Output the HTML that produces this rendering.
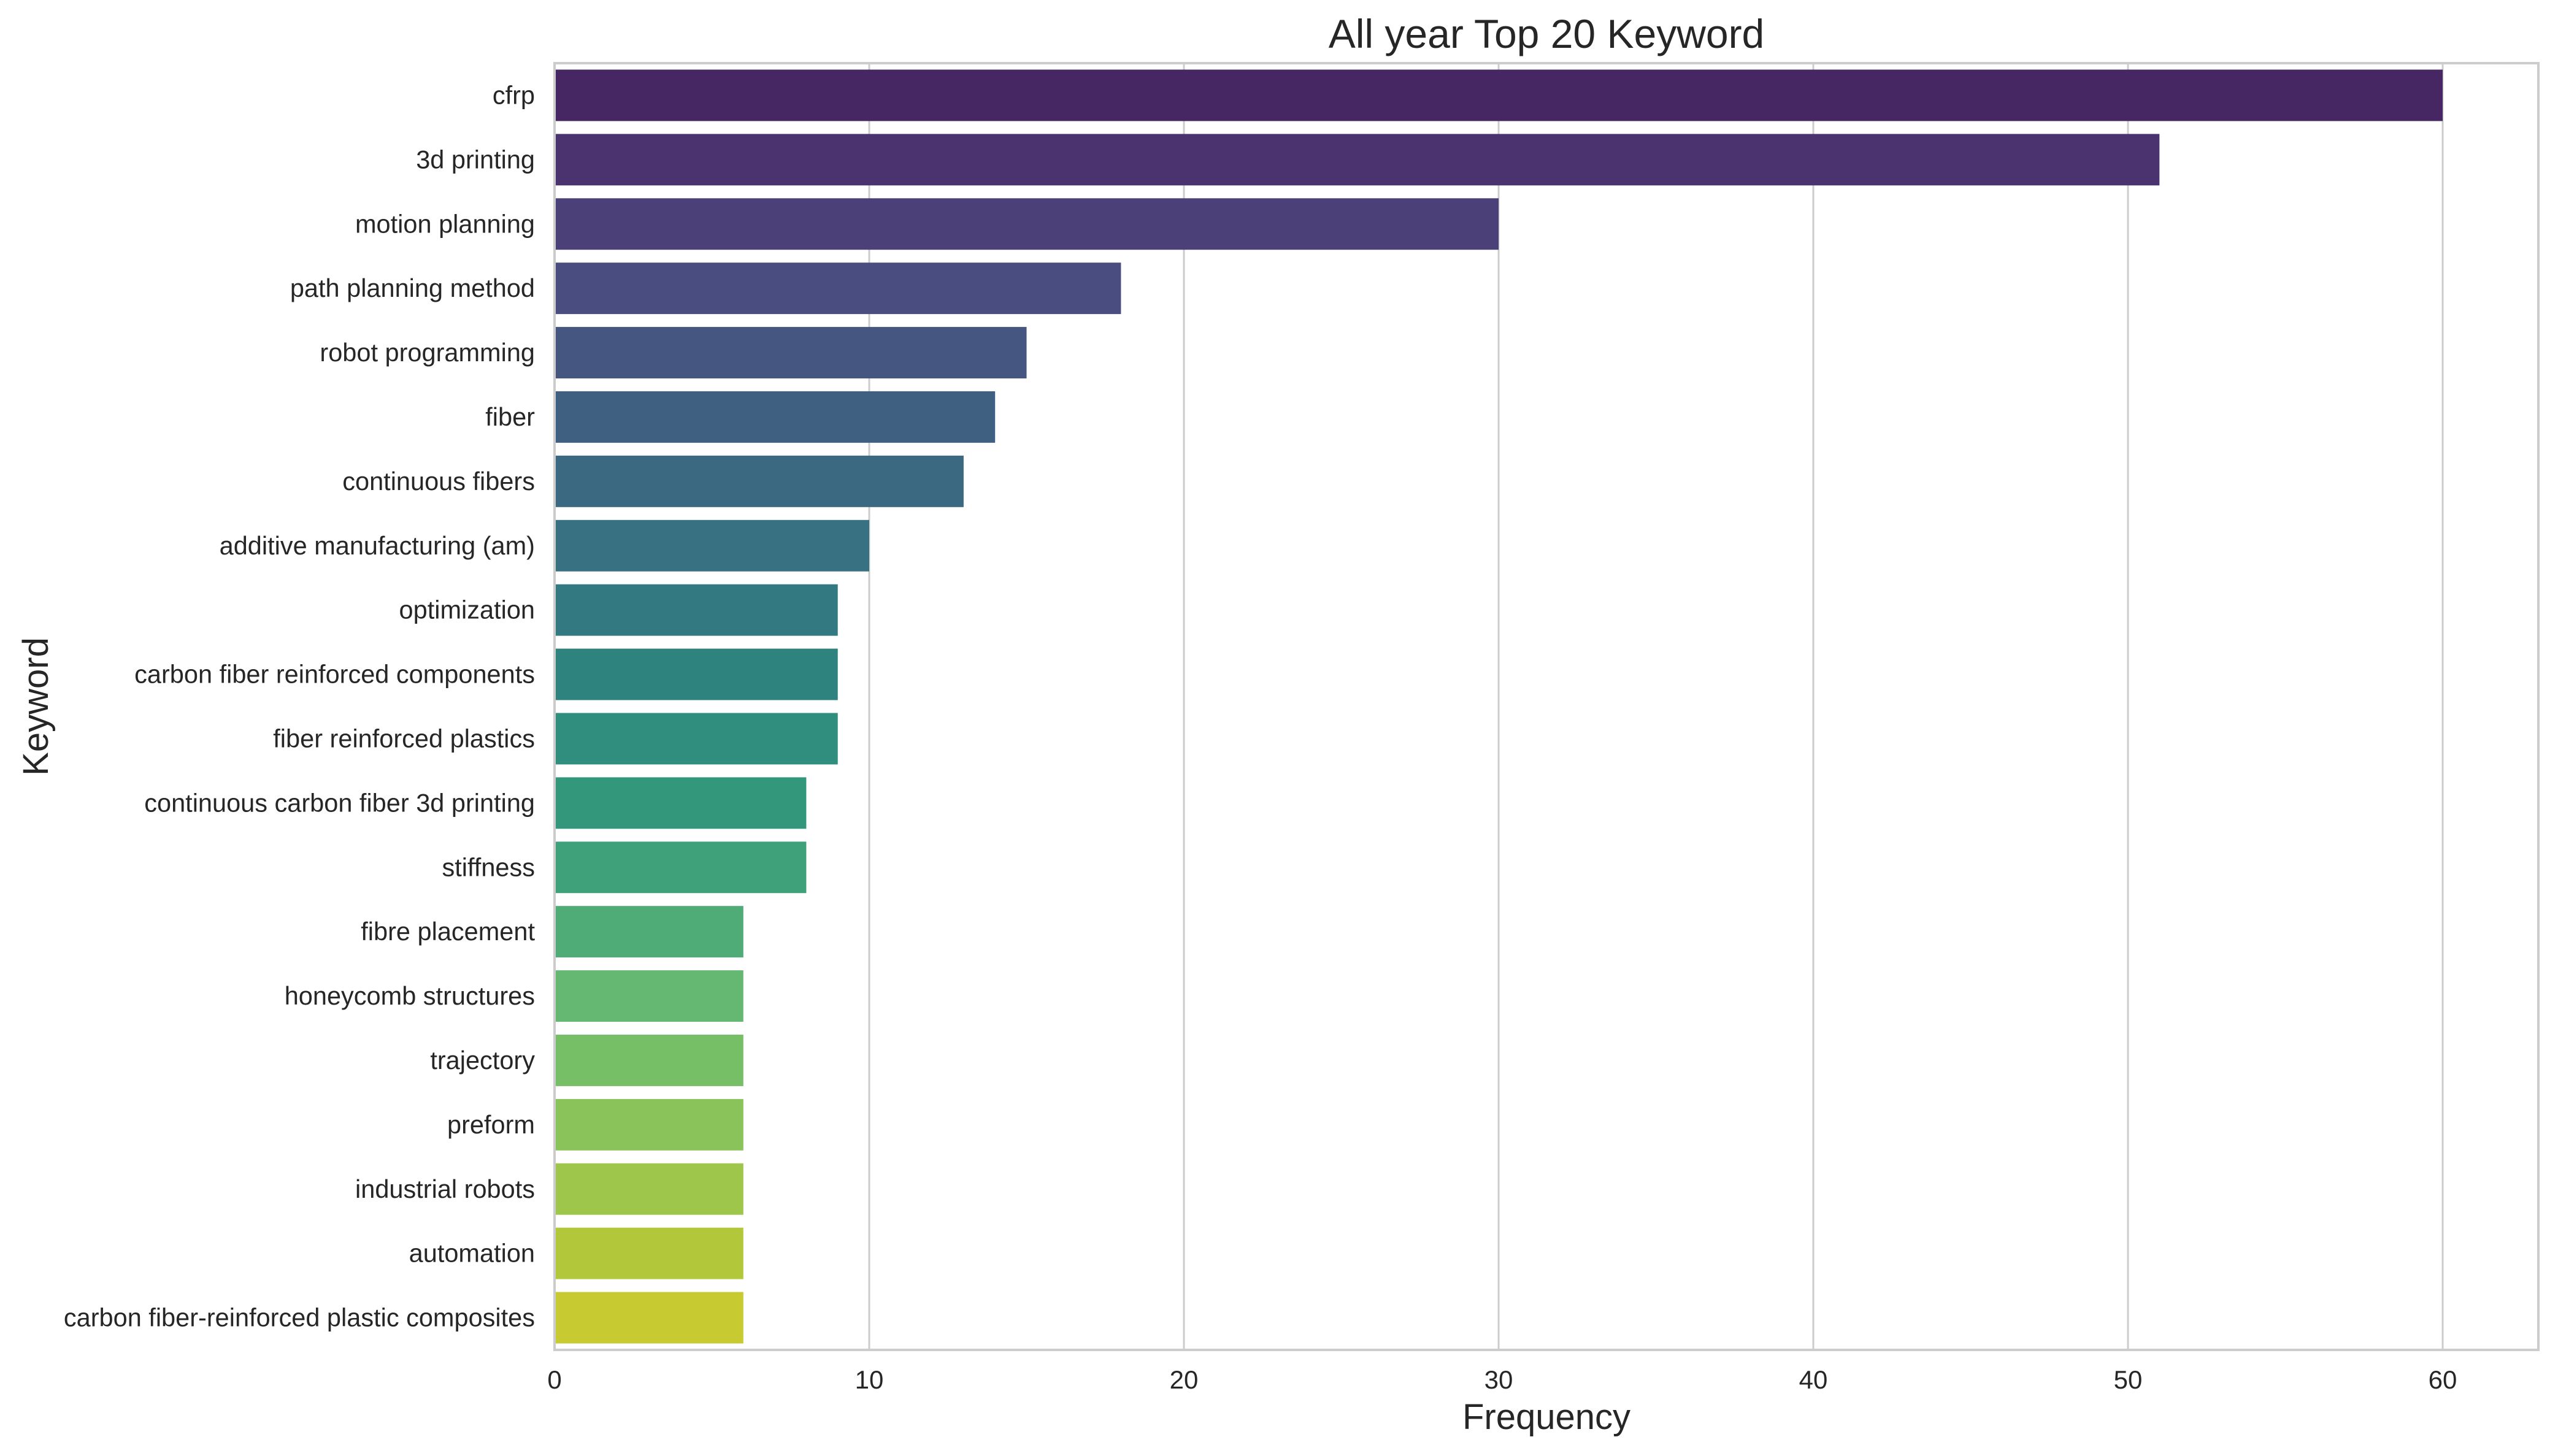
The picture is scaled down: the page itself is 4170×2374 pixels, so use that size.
<!DOCTYPE html>
<html><head><meta charset="utf-8"><style>
html,body{margin:0;padding:0;background:#fff;}
svg text{font-family:"Liberation Sans",Arial,sans-serif;fill:#262626;}
</style></head><body>
<svg id="chart" width="4170" height="2369" viewBox="0 0 4170 2369" xmlns="http://www.w3.org/2000/svg">
<rect width="4170" height="2369" fill="#fff"/>
<text x="2521" y="78" font-size="66" text-anchor="middle">All year Top 20 Keyword</text>
<text x="2521" y="2330" font-size="58" text-anchor="middle">Frequency</text>
<text x="0" y="0" font-size="58" text-anchor="middle" transform="translate(78,1152) rotate(-90)">Keyword</text>
<g id="grid"></g><g id="bars"></g><g id="ylabels"></g><g id="xticks"></g>
<rect x="904" y="103" width="3234" height="2098" fill="none" stroke="#cccccc" stroke-width="4"/>
</svg>
<script>
const categories = ["cfrp","3d printing","motion planning","path planning method","robot programming","fiber","continuous fibers","additive manufacturing (am)","optimization","carbon fiber reinforced components","fiber reinforced plastics","continuous carbon fiber 3d printing","stiffness","fibre placement","honeycomb structures","trajectory","preform","industrial robots","automation","carbon fiber-reinforced plastic composites"];
const values = [60,51,30,18,15,14,13,10,9,9,9,8,8,6,6,6,6,6,6,6];
const xTicks = [0,10,20,30,40,50,60];
const palette = ["#481c6e","#482979","#453781","#404688","#3b528b","#355f8d","#2f6c8e","#2a788e","#25848e","#21918c","#1f9e89","#22a884","#2db27d","#3fbc73","#56c667","#6ece58","#89d548","#a5db36","#c2df23","#dfe318"];
const NS="http://www.w3.org/2000/svg";
const X0=904, X1=4138, Y0=103, Y1=2201;
function xs(v){return X0+v*(3982-904)/60;}
const band=(Y1-Y0)/categories.length;
function yc(i){return Y0+band*(i+0.5);}
function desat(hex){let r=parseInt(hex.substr(1,2),16)/255,g=parseInt(hex.substr(3,2),16)/255,b=parseInt(hex.substr(5,2),16)/255;
 let mx=Math.max(r,g,b),mn=Math.min(r,g,b),l=(mx+mn)/2,h=0,s=0,d=mx-mn;
 if(d>0){s=l>0.5?d/(2-mx-mn):d/(mx+mn);
  if(mx===r)h=((g-b)/d+(g<b?6:0));else if(mx===g)h=(b-r)/d+2;else h=(r-g)/d+4;h/=6;}
 s*=0.75;
 function f(p,q,t){if(t<0)t+=1;if(t>1)t-=1;if(t<1/6)return p+(q-p)*6*t;if(t<1/2)return q;if(t<2/3)return p+(q-p)*(2/3-t)*6;return p;}
 let q=l<0.5?l*(1+s):l+s-l*s,p=2*l-q;
 return "rgb("+[f(p,q,h+1/3),f(p,q,h),f(p,q,h-1/3)].map(v=>Math.round(v*255)).join(",")+")";}
const grid=document.getElementById('grid'),bars=document.getElementById('bars'),yl=document.getElementById('ylabels'),xt=document.getElementById('xticks');
xTicks.forEach(t=>{
 const l=document.createElementNS(NS,'line');
 
 
 l.setAttribute('x1',xs(t));l.setAttribute('x2',xs(t));l.setAttribute('y1',Y0);l.setAttribute('y2',Y1);
 l.setAttribute('stroke','#cccccc');l.setAttribute('stroke-width','3');grid.appendChild(l);
 const tx=document.createElementNS(NS,'text');
 
 
 tx.setAttribute('x',xs(t));tx.setAttribute('y',2264);tx.setAttribute('font-size','42');tx.setAttribute('text-anchor','middle');
 tx.textContent=t;xt.appendChild(tx);});
categories.forEach((c,i)=>{
 const r=document.createElementNS(NS,'rect');
 
 
 const h=band*0.8;
 r.setAttribute('x',xs(0));r.setAttribute('y',yc(i)-h/2);r.setAttribute('width',xs(values[i])-xs(0));r.setAttribute('height',h);
 r.setAttribute('fill',desat(palette[i]));bars.appendChild(r);
 const tx=document.createElementNS(NS,'text');
 
 
 tx.setAttribute('x',872);tx.setAttribute('y',yc(i)+14);tx.setAttribute('font-size','41.5');tx.setAttribute('text-anchor','end');
 tx.textContent=c;yl.appendChild(tx);});
</script>
</body></html>
